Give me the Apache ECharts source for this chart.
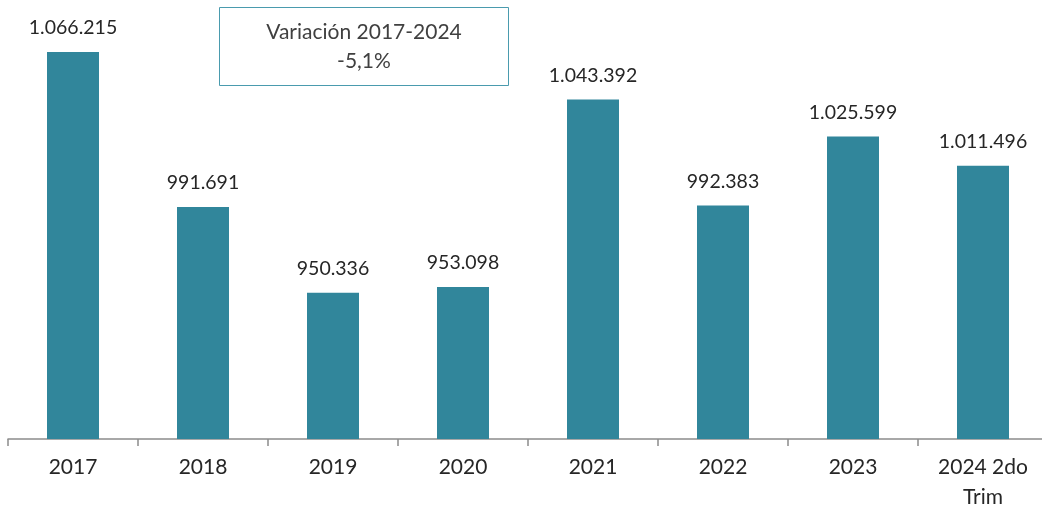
<!DOCTYPE html>
<html><head><meta charset="utf-8">
<script src="https://cdn.jsdelivr.net/npm/echarts@6/dist/echarts.min.js"></script>
<style>html,body{margin:0;padding:0;background:#fff;overflow:hidden;width:1042px;height:512px}#c{width:1048px;height:512px}</style>
</head><body><div id="c"></div>
<script>
const categories = ['2017','2018','2019','2020','2021','2022','2023','2024 2do\nTrim'];
const values = [1066215, 991691, 950336, 953098, 1043392, 992383, 1025599, 1011496];
const boxLines = ['Variación 2017-2024', '-5,1%'];

const fmt = v => String(v).replace(/\B(?=(\d{3})+(?!\d))/g, '.');
const FONT = 'Lato';
const chart = echarts.init(document.getElementById('c'));
chart.setOption({
  animation: false,
  grid: { left: 8, top: 52, bottom: 73, right: 0, containLabel: false },
  xAxis: {
    type: 'category', data: categories,
    axisLine: { lineStyle: { color: '#8c8c8c', width: 1.5 } },
    axisTick: { show: true, length: 7, lineStyle: { color: '#8c8c8c', width: 1.5 } },
    axisLabel: { color: '#262626', fontSize: 21, fontFamily: FONT, margin: 13, lineHeight: 30, interval: 0 }
  },
  yAxis: {
    type: 'value', min: 880000, max: v => v.max, show: false,
    splitLine: { show: false }
  },
  series: [{
    type: 'bar', data: values, barWidth: 52,
    itemStyle: { color: '#31869B' },
    label: { show: true, position: 'top', distance: 14, color: '#262626', fontSize: 19.5, fontFamily: FONT, formatter: p => fmt(p.value) }
  }],
  graphic: [{
    type: 'group', left: 219, top: 7,
    children: [
      { type: 'rect', shape: { x: 0, y: 0, width: 289, height: 78 }, style: { fill: '#fff', stroke: '#4A9BAE', lineWidth: 1 } },
      { type: 'text', x: 144.5, y: 25, style: { text: boxLines[0], fill: '#404040', font: '21px ' + FONT, align: 'center', verticalAlign: 'middle' } },
      { type: 'text', x: 144.5, y: 54, style: { text: boxLines[1], fill: '#404040', font: '21px ' + FONT, align: 'center', verticalAlign: 'middle' } }
    ]
  }]
});
</script></body></html>
